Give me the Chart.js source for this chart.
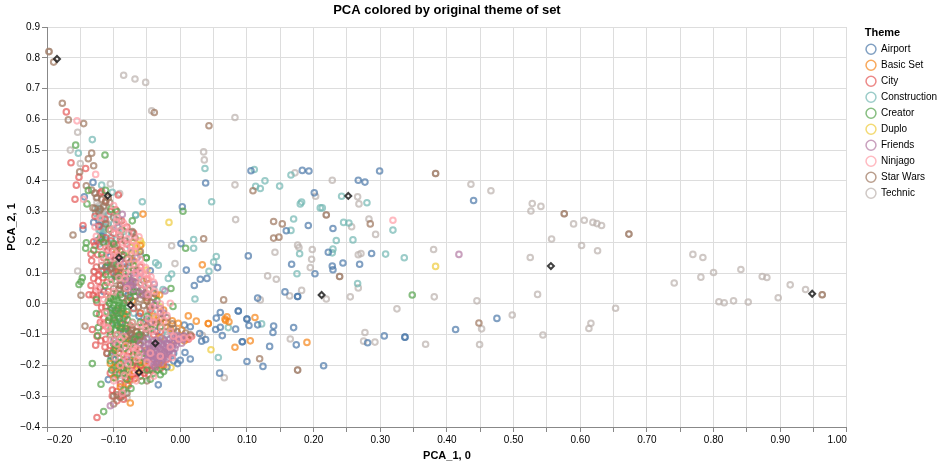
<!DOCTYPE html>
<html>
<head>
<meta charset="utf-8">
<title>PCA colored by original theme of set</title>
<script src="https://cdn.jsdelivr.net/npm/chart.js@4"></script>
<style>
  html, body { margin: 0; padding: 0; background: #fff; }
  canvas { display: block; }
</style>
</head>
<body>
<canvas id="myChart" width="943" height="464"></canvas>
<script>
const airport = [[.299,.432],[.267,.402],[.277,.396],[.440,.336],[.229,.245],[.222,.168],[.287,.164],[.244,.133],[.228,.123],[.229,.111],[.269,.129],
  [.306,-.104],[.281,-.126],[.337,-.108],[.337,-.108],[.413,-.083],[.475,-.047],[.215,-.201],[-.131,.395],[.038,.393],[.106,.433],[.183,.434],[.193,.432],
  [.201,.361],[.003,.316],[.192,.255],[.159,.238],[-.144,.348],[-.146,.243],[.001,.196],[.009,.110],[.056,.118],[.021,.060],[.030,.080],[.040,.083],
  [.102,.156],[.167,.129],[.202,.098],[.157,.039],[.176,.024],[.176,.024],[.116,.019],[.060,-.028],[.087,-.023],[.087,-.023],[.054,-.046],[.100,-.049],[.100,-.049],
  [.053,-.083],[.060,-.076],[.063,-.103],[.083,-.082],[.103,-.070],[.116,-.068],[.140,-.072],[.139,-.093],[.170,-.077],[.174,-.133],[.134,-.138],[.093,-.123],[.093,-.123],
  [.029,-.096],[.032,-.121],[.038,-.116],[.015,-.074],[.006,-.069],[.015,-.179],[.007,-.158],[-.004,-.194],[0,-.183],[.100,-.187],[.124,-.203],[.059,-.225],
  [-.033,-.263],[-.108,-.246],[-.098,-.179],[-.045,.108],[-.098,.09],[-.118,.22],[-.122,.255],[-.105,-.02],[-.09,-.06],[-.073,.14],[-.062,-.04],[-.112,.12],[-.02,-.13],[-.01,-.16],
  [-.125,.205],[-.13,.265],[-.105,.155],[-.083,.12],[-.115,.04],[-.095,-.03],[-.104,-.17],[-.085,-.09],[-.07,-.11],[-.05,-.05],[-.035,-.09],[-.02,-.205],[-.01,-.185],[-.09,-.145],[-.078,.03]];
const basicSet = [[-.056,.292],[.033,.127],[.012,-.039],[.024,-.056],[.042,-.064],[.042,-.064],[.067,-.049],[.070,-.042],[.073,-.058],[.068,-.054],[.112,-.044],
  [.105,-.120],[.082,-.141],[.190,-.125],[-.003,-.063],[-.075,-.322],[-.082,-.122],[-.028,-.199],[-.105,-.194],[-.097,-.150],[-.031,.029],[-.028,-.047],[.002,-.085],
  [-.06,.19],[-.07,.14],[-.05,.08],[-.025,-.02],[-.04,-.04],[-.015,-.08],[-.03,-.11],[-.05,-.15],[-.07,-.17],[-.088,-.215],[-.1,-.24],[-.08,-.26],[-.055,-.19],[-.008,-.12],[.006,-.12],[-.09,.11],
  [-.1,-.208],[-.092,-.195],[-.082,-.115],[-.078,-.13],[-.065,-.09],[-.045,-.065],[-.022,-.06],[-.012,-.055],[-.072,.01],[-.085,-.03],[-.095,-.145],[-.09,-.27],[-.076,-.23],[-.032,-.192],[-.036,.03]];
const city = [[-.171,.624],[-.164,.459],[-.142,.440],[-.152,.412],[-.156,.386],[-.158,.340],[-.093,.354],[-.146,.255],[-.097,.306],[-.122,.252],[-.125,-.369],
  [-.130,.083],[-.123,.074],[-.131,.029],[-.120,.053],[-.127,.042],[-.134,.162],[-.126,.120],[-.127,-.134],[-.132,-.083],[-.115,-.087],[-.121,-.034],[-.102,-.280],[-.102,-.299],[-.130,.202],[-.120,.186],
  [-.137,.03],[-.126,.02],[-.118,.03],[-.112,-.01],[-.108,.04],[-.118,.105],[-.124,.16],[-.115,.15],[-.109,.175],[-.128,.19],[-.12,.21],[-.112,.215],[-.104,.205],[-.095,.19],[-.09,.21],[-.1,.23],
  [-.087,.155],[-.105,.14],[-.1,.1],[-.11,.07],[-.105,.02],[-.115,-.045],[-.108,-.06],[-.105,-.09],[-.098,-.115],[-.112,-.115],[-.105,-.135],[-.095,-.1],[-.088,-.13],[-.092,-.16],[-.078,-.155],
  [-.085,-.185],[-.072,-.2],[-.06,-.2],[-.05,-.205],[-.042,-.215],[-.055,-.215],[-.065,-.21],[-.048,-.228],[-.06,-.235],[-.07,-.225],[-.075,-.245],[-.082,-.24],[-.09,-.26],[-.095,-.285],[-.088,-.3],[-.095,-.315],[-.085,-.31],
  [-.03,-.21],[-.035,-.195],[-.04,-.18],[-.05,-.165],[-.06,-.15],[-.025,-.2],[-.02,-.18],[.01,-.11],[.017,-.105],[.012,-.115],[-.065,-.12],[-.075,-.07],[-.085,-.05],[-.093,-.02],[-.1,-.045],[-.08,.01],[-.09,.06],[-.075,.07],
  [-.095,.12],[-.085,.13],[-.07,.11],[-.06,.12],[-.05,.02],[-.045,-.02],[-.035,-.06],[-.055,-.06],[-.03,-.09],[-.04,-.1],[-.112,.335],[-.105,.3],[-.118,.365],[-.088,.27],[-.08,.25],[-.07,.23],
  [-.133,.14],[-.129,.105],[-.122,.095],[-.116,.085],[-.134,.06],[-.11,.105],[-.125,.005],[-.118,-.012],[-.12,-.06],[-.125,-.105],[-.119,-.12],[-.113,-.14],[-.115,-.065],[-.11,-.16],[-.1,-.15],[-.098,-.205],[-.105,-.225],[-.095,-.23],[-.085,-.215],
  [-.078,-.265],[-.072,-.235],[-.068,-.242],[-.054,-.225],[-.046,-.215],[-.038,-.205],[-.052,-.19],[-.068,-.185],[-.08,-.17],[-.07,-.15],[-.09,-.08],[-.08,-.035],[-.07,-.015],[-.06,-.03],[-.083,.088],[-.093,.105],[-.1,.16],[-.09,.175],[-.08,.195],[-.106,.185],[-.128,.285],[-.12,.36],[-.113,.275]];
const construction = [[-.132,.534],[-.153,.490],[.037,.440],[.047,.332],[.111,.437],[.113,.382],[.120,.375],[.127,.400],[.149,.383],[.166,.419],[.180,.325],[.182,.331],[.210,.312],[.170,.276],[.166,.239],
  [-.057,.332],[-.067,.289],[-.067,.289],[-.097,.274],[-.073,.232],[-.102,.363],[-.118,.386],[.242,.350],[.280,.329],[.213,.312],[.245,.265],[.253,.263],[.319,.240],[.234,.206],[.259,.208],[.229,.178],[.228,.166],[.308,.162],[.336,.150],[.266,.066],
  [.020,.209],[.020,.181],[.054,.154],[.050,.136],[.043,.106],[-.018,.083],[-.013,.097],[.022,.016],[.072,-.077],[.122,-.065],[.175,.098],[.179,.163],[.057,-.174],[-.037,.134],[-.033,.126],[-.026,.047],
  [-.127,.295],[-.124,.31],[-.118,.27],[-.113,.25],[-.12,.235],[-.108,.29],[-.1,.26],[-.092,.25],[-.075,.215],[-.11,.17],[-.098,.14],[-.105,.115],[-.075,.185],[-.06,.16],[-.058,.08],[-.04,.05],[-.088,-.01],[-.07,-.03],[-.05,-.11],[-.09,-.08],[-.02,-.1],[-.1,-.18],[-.08,-.2],
  [-.122,.24],[-.116,.225],[-.112,.205],[-.122,.195],[-.104,.215],[-.085,.235],[-.095,.21],[-.115,.11],[-.085,.04],[-.098,-.06],[-.078,-.09],[-.06,-.13],[-.042,-.03],[-.03,-.12]];
const creator = [[-.157,.516],[-.113,.484],[-.112,.369],[-.138,.369],[-.140,.325],[.004,.301],[-.104,.308],[-.107,.243],[.348,.029],[.008,.181],[-.051,.150],[-.051,.150],[-.014,.050],[-.011,-.008],[-.132,-.194],[-.119,-.261],[-.115,-.350],
  [-.141,.199],[-.142,.181],[-.147,.085],[-.149,.072],[-.152,.063],[-.126,.013],[-.126,-.031],[-.123,-.077],[-.124,-.103],[-.074,-.275],[-.12,.215],[-.13,.175],[-.11,.135],[-.095,.3],[-.088,.24],[-.072,.27],
  [-.113,.06],[-.108,.01],[-.106,.002],[-.1,.015],[-.095,.012],[-.09,.03],[-.085,.002],[-.1,-.005],[-.093,-.006],[-.086,-.015],[-.08,-.025],[-.11,-.025],[-.104,-.03],[-.098,-.022],[-.09,-.03],[-.106,-.045],[-.099,-.052],[-.091,-.047],[-.083,-.04],[-.102,-.065],
  [-.094,-.07],[-.087,-.063],[-.079,-.052],[-.098,-.085],[-.09,-.09],[-.082,-.08],[-.105,-.1],[-.1,-.13],[-.093,-.14],[-.085,-.115],[-.075,-.13],[-.102,-.16],[-.095,-.2],[-.09,-.19],[-.103,-.215],[-.085,-.225],[-.08,-.245],[-.06,-.19],[-.07,-.165],
  [-.055,-.16],[-.045,-.245],[-.04,-.225],[-.03,-.23],[-.06,-.06],[-.05,-.04],[-.035,.01],[-.07,.04],[-.08,.08],[-.095,.13],[-.112,.095],[-.085,.16],[-.07,.125],[-.045,-.08],[-.03,-.075],[-.085,-.28],
  [-.105,.018],[-.097,.025],[-.091,.004],[-.102,-.014],[-.087,-.006],[-.094,-.015],[-.1,-.038],[-.094,-.04],[-.088,-.02],[-.108,-.055],[-.096,-.062],[-.104,-.08],[-.088,-.078],[-.09,-.11],[-.098,-.115],[-.09,-.125],[-.083,-.145],[-.098,-.15],[-.105,-.185],[-.092,-.175],
  [-.098,-.24],[-.091,-.225],[-.08,-.215],[-.075,-.19],[-.05,-.215],[-.058,-.25],[-.035,-.215],[-.025,-.22],[-.078,.105],[-.092,.09],[-.103,.08],[-.118,.16],[-.1,.195],[-.115,.2],[-.065,.04],[-.075,.02],[-.062,-.1],[-.072,-.06],[-.04,-.14],[-.068,-.115]];
const duplo = [[.383,.122],[-.017,.265],[-.014,-.207],[.046,-.149],[-.065,.181],[-.07,.2],[-.062,.17],[-.058,.195],[-.075,.16],[-.05,.11],[-.085,-.165],[-.075,-.21],[-.065,-.2],[-.058,-.19],[-.07,-.245],[-.09,-.07],[-.06,-.03],[-.03,-.01],[-.05,.01],[-.095,.17],
  [-.066,.192],[-.06,.205],[-.078,-.22],[-.07,-.19],[-.062,-.215],[-.055,-.2],[-.08,-.08],[-.11,.03],[-.04,-.05],[-.03,-.06],[-.025,-.16]];
const friends = [[-.087,.291],[-.094,.249],[.418,.161],[-.105,-.331],[-.039,.064],[-.023,.042],[-.04,-.12],[-.032,-.125],[-.024,-.118],[-.016,-.114],[-.008,-.11],[0,-.11],[-.044,-.132],[-.036,-.135],[-.028,-.132],[-.02,-.127],[-.012,-.122],[-.004,-.12],[.004,-.116],
  [-.046,-.146],[-.038,-.148],[-.03,-.146],[-.022,-.141],[-.014,-.136],[-.006,-.133],[.002,-.128],[-.048,-.158],[-.04,-.162],[-.032,-.158],[-.024,-.155],[-.016,-.15],[-.008,-.145],[-.044,-.172],[-.036,-.173],[-.028,-.168],[-.02,-.163],[-.012,-.16],[-.042,-.186],[-.034,-.184],[-.026,-.179],[-.018,-.175],
  [-.04,-.198],[-.03,-.192],[-.054,-.172],[-.054,-.142],[-.06,-.128],[-.05,-.115],[-.072,.06],[-.068,.085],[-.076,.075],[-.07,.048],[-.082,.07],[-.06,.03],[-.025,-.03],[-.045,-.06],[-.09,.14],[-.1,-.12],[-.065,.15],[-.08,-.18],[-.038,.0],
  [-.042,-.125],[-.035,-.118],[-.027,-.112],[-.012,-.104],[-.004,-.103],[.006,-.104],[-.048,-.13],[-.04,-.14],[-.033,-.14],[-.025,-.138],[-.017,-.131],[-.01,-.128],[-.052,-.15],[-.044,-.155],[-.036,-.155],[-.028,-.151],[-.02,-.148],[-.012,-.142],[-.05,-.18],[-.046,-.166],[-.04,-.168],[-.032,-.165],
  [-.024,-.162],[-.016,-.156],[-.038,-.178],[-.03,-.176],[-.022,-.17],[-.036,-.192],[-.028,-.186],[-.038,-.205],[-.076,.062],[-.07,.072],[-.078,.088],[-.068,.1],[-.08,.055],[-.058,.05],[-.05,.03],[-.03,-.015],[-.06,.1]];
const ninjago = [[-.155,.595],[-.127,.421],[-.083,.247],[-.145,.34],[.319,.272],[-.015,.002],[-.055,.096],[-.048,.082],[-.08,.21],[-.073,.19],[-.068,.17],[-.1,.245],[-.092,.225],[-.086,.2],[-.1,.17],[-.078,.145],[-.09,.125],[-.082,.1],[-.068,.13],[-.06,.105],[-.05,.095],[-.06,.065],
  [-.04,.07],[-.092,.085],[-.105,.07],[-.1,.04],[-.042,-.01],[-.048,.03],[-.03,.0],[-.052,-.08],[-.04,-.06],[-.025,-.055],[-.015,-.09],
  [-.01,-.105],[.005,-.11],[.014,-.11],[-.002,-.115],[-.095,-.13],[-.105,-.115],[-.085,-.105],[-.09,-.155],[-.075,-.16],[-.065,-.145],[-.045,-.16],[-.03,-.17],[-.015,-.14],[-.05,-.19],[-.065,-.18],[-.078,-.195],[-.09,-.2],[-.1,-.25],[-.04,-.235],
  [-.087,-.29],[-.11,.03],[-.115,.015],[-.112,.18],[-.105,.24],[-.11,-.075],[-.1,.32],[-.095,.28],[-.06,.145],[-.03,-.025],[-.08,.05],
  [-.096,.268],[-.085,.262],[-.09,.238],[-.077,.228],[-.07,.205],[-.062,.218],[-.066,.188],[-.081,.18],[-.074,.172],[-.094,.158],[-.107,.158],[-.101,.148],[-.058,.125],[-.052,.118],[-.044,.088],[-.074,.112],[-.066,.098],[-.083,.082],[-.061,.088],[-.053,.06],[-.046,.05],[-.038,.04],
  [-.072,-.062],[-.06,-.068],[-.048,-.048],[-.036,-.042],[-.02,-.038],[-.028,-.078],[-.042,-.09],[-.09,-.115],[-.082,-.135],[-.07,-.14],
  [-.012,-.175],[-.062,-.168],[-.085,-.17],[-.098,-.175],[-.072,-.222],[-.084,-.232],[-.066,-.25],[-.095,-.1],[-.108,-.08],[-.118,-.06],[-.112,-.03],[-.124,.05],[-.118,.14],[-.126,.22],[-.128,.25],[-.12,.28]];
const starWars = [[-.197,.820],[-.190,.786],[-.177,.652],[-.168,.598],[-.145,.586],[-.039,.622],[.043,.579],[-.133,.490],[-.138,.472],[-.130,.449],[-.151,.429],[-.141,.384],[.109,.368],[.140,.268],[.153,.260],[-.120,.308],[-.131,.312],
  [.383,.424],[.219,.289],[.285,.260],[.576,.293],[.673,.227],[.448,-.062],[.239,.089],[.963,.030],[-.161,.224],[.035,.212],[.140,.214],[.148,.217],[.065,.013],[-.149,.028],[-.143,-.072],[.119,-.178],[.176,-.215],[-.110,-.161],[-.100,-.325],[-.090,-.304],
  [-.133,.37],[-.128,.36],[-.125,.345],[-.118,.34],[-.112,.33],[-.128,.31],[-.122,.30],[-.115,.318],[-.108,.345],[-.106,.33],[-.105,.24],[-.072,.235],[-.068,.215],[-.09,.22],[-.083,.205],[-.118,.21],[-.108,.195],[-.098,.185],[-.088,.17],[-.073,.165],
  [-.118,.125],[-.11,.125],[-.105,.112],[-.1,.13],[-.095,.09],[-.09,.10],[-.085,.115],[-.078,.09],[-.072,.075],[-.098,.075],[-.09,.06],[-.083,.05],[-.075,.04],[-.065,.055],[-.058,.045],[-.052,.035],[-.068,.025],[-.06,.015],[-.05,.01],[-.044,.005],[-.095,.035],[-.1,.05],[-.087,.02],[-.077,.01],[-.082,.035],[-.067,.07],[-.055,.075],[-.04,.02],[-.038,-.005],
  [-.08,-.07],[-.072,-.08],[-.065,-.075],[-.058,-.09],[-.075,-.095],[-.068,-.105],[-.06,-.11],[-.052,-.095],[-.08,-.105],[-.07,-.125],[-.062,-.13],[-.055,-.12],[-.078,-.12],[-.05,-.07],[-.03,-.05],[-.02,-.075],[-.005,-.09],[.005,-.105],[.015,-.10],[-.012,-.065],[-.02,-.045],[-.03,-.03],[-.065,-.16],[-.07,-.19],[-.085,-.21],[-.05,-.25],
  [-.103,.118],[-.096,.106],[-.09,.082],[-.08,.068],[-.074,.058],[-.092,.048],[-.062,.038],[-.07,.008],[-.056,.028],[-.048,.045],[-.063,-.01],[-.055,-.005],[-.046,-.008],[-.074,-.085],[-.066,-.09],[-.06,-.1],[-.072,-.115],[-.064,-.118],[-.057,-.105],[-.073,-.1],[-.082,-.09],[-.048,-.085],[-.037,-.068],[-.01,-.08],[.008,-.095],
  [-.095,.155],[-.08,.148],[-.06,.17],[-.112,.26],[-.1,.28],[-.092,.27],[-.075,.135],[-.065,.11],[-.048,.065],[-.04,.035],[-.1,-.3],[-.095,-.295],[-.08,-.29]];
const technic = [[-.085,.743],[-.068,.731],[-.052,.720],[-.043,.628],[.082,.606],[-.154,.558],[-.165,.500],[-.150,.456],[.035,.494],[.036,.468],[-.105,.390],[.082,.387],[.083,.274],[-.091,.359],[.172,.426],[.203,.350],[-.121,.358],[-.197,.820],
  [.228,.402],[.383,.424],[.436,.389],[.466,.368],[.266,.348],[.268,.325],[.219,.290],[.283,.276],[.257,.251],[.293,.226],[.528,.326],[.541,.317],[.526,.302],[.576,.293],[.590,.260],[.606,.272],[.619,.265],[.625,.261],[.632,.255],[.673,.227],[.557,.211],[.602,.190],[.626,.173],[.380,.177],[.525,.151],
  [.267,.160],[.271,.164],[.239,.089],[.267,.052],[.255,.023],[.219,.016],[.381,.023],[.325,-.016],[.445,.010],[.536,.031],[.498,-.036],[.653,-.014],[.616,-.063],[.613,-.080],[.452,-.081],[.544,-.101],[.449,-.132],[.368,-.131],[.277,-.093],[.275,-.121],[.292,-.124],
  [.769,.161],[.784,.151],[.800,.102],[.781,.087],[.741,.068],[.841,.112],[.873,.089],[.880,.086],[.915,.062],[.938,.047],[.897,.020],[.808,.007],[.816,.004],[.830,.010],[.852,.006],[.963,.030],
  [-.013,.189],[-.008,.131],[-.154,.107],[.142,.168],[.176,.191],[.178,.183],[.198,.177],[.197,.145],[.195,.118],[.131,.091],[.144,.080],[.182,.044],[.164,.026],[.120,.013],[.033,-.102],[.165,-.114],[.066,-.240],[.176,-.215],[-.067,-.156],[-.085,-.296],
  [-.125,.33],[-.122,.32],[-.120,.31],[-.118,.30],[-.121,.29],[-.117,.285],[-.119,.275],[-.115,.27],[-.118,.26],[-.114,.255],[-.116,.245],[-.112,.30],[-.113,.28],[-.111,.265],[-.123,.30],[-.126,.345],[-.128,.36],[-.11,.12],[-.105,.125],[-.115,.235],[-.11,.225],[-.085,.06],[-.05,-.02],[-.09,-.25],[-.082,-.29],[-.13,.105],[-.02,-.09],
  [-.114,.315],[-.124,.28],[-.116,.295],[-.12,.268],[-.113,.243],[-.108,.258],[-.117,.232],[-.102,.115],[-.095,.11],[-.075,-.25],[-.08,-.305],[-.088,-.29],[-.06,-.145],[-.01,-.095]];
const centroids = [[-.185,.796],[-.109,.352],[-.092,.150],[-.0745,-.004],[-.0375,-.128],[-.062,-.223],[.252,.351],[.212,.029],[.556,.123],[.948,.033]];

const themeNames = ['Airport', 'Basic Set', 'City', 'Construction', 'Creator', 'Duplo', 'Friends', 'Ninjago', 'Star Wars', 'Technic'];
const themeValues = [airport, basicSet, city, construction, creator, duplo, friends, ninjago, starWars, technic];
const themeColors = ['#4c78a8', '#f58518', '#e45756', '#72b7b2', '#54a24b', '#eeca3b', '#b279a2', '#ff9da6', '#9d755d', '#bab0ac'];
// higher order is painted first
const themeOrder = [6, 4, 5, 8, 2.5, 7, 2, 1, 3, 9];

function hexToRgba(hex, alpha) {
  const n = parseInt(hex.slice(1), 16);
  return `rgba(${n >> 16},${(n >> 8) & 255},${n & 255},${alpha})`;
}

function toPoints(pairs) {
  return pairs.map(p => ({ x: p[0], y: p[1] }));
}

const datasets = themeNames.map((name, i) => ({
  label: name,
  data: toPoints(themeValues[i]),
  order: themeOrder[i],
  clip: false,
  pointRadius: 2.8,
  pointBorderWidth: 2,
  pointBorderColor: hexToRgba(themeColors[i], 0.7),
  pointBackgroundColor: 'rgba(0,0,0,0)'
}));

datasets.push({
  label: 'centroids',
  data: toPoints(centroids),
  order: 0,
  clip: false,
  pointStyle: 'rectRot',
  pointRadius: 3,
  pointBorderWidth: 2,
  pointBorderColor: 'rgba(30,30,30,0.85)',
  pointBackgroundColor: 'rgba(0,0,0,0)'
});

function fmt(v, digits) {
  const s = Math.abs(v) < 1e-9 ? (0).toFixed(digits) : v.toFixed(digits);
  return s.replace('-', '\u2212');
}

Chart.defaults.font.family = '"Liberation Sans", Arial, sans-serif';
Chart.defaults.color = '#000';

const axisGrid = { color: '#ddd', tickColor: '#888', tickLength: 5, lineWidth: 1 };

new Chart(document.getElementById('myChart'), {
  type: 'scatter',
  data: { datasets: datasets },
  plugins: [{
    id: 'legendGap',
    // the legend sits away from the plot and its title starts right of the box edge
    afterLayout(chart) {
      const legend = chart.legend;
      legend.left = 860;
      legend.right = 943;
      legend.width = 45;
    }
  }],
  options: {
    responsive: false,
    animation: false,
    events: [],
    layout: { padding: { right: 9 } },
    plugins: {
      title: {
        display: true,
        text: 'PCA colored by original theme of set',
        fullSize: false,
        color: '#000',
        font: { size: 13, weight: 'bold' },
        padding: { top: 3, bottom: 8.4 }
      },
      tooltip: { enabled: false },
      legend: {
        position: 'right',
        align: 'start',
        title: {
          display: true,
          text: 'Theme',
          position: 'center',
          color: '#000',
          font: { size: 11, weight: 'bold' },
          padding: { top: 27.8, bottom: -2.7 }
        },
        labels: {
          usePointStyle: true,
          boxWidth: 10,
          boxHeight: 7,
          padding: 6,
          color: '#000',
          font: { size: 10 },
          generateLabels: chart => Chart.defaults.plugins.legend.labels.generateLabels(chart)
            .map(item => Object.assign(item, { lineWidth: 1.5 })),
          filter: item => item.text !== 'centroids',
          sort: (a, b) => a.datasetIndex - b.datasetIndex
        }
      }
    },
    scales: {
      x: {
        type: 'linear',
        min: -0.2,
        max: 1,
        afterFit(scale) { scale.height = 37; },
        grid: axisGrid,
        border: { color: '#888' },
        title: {
          display: true,
          text: 'PCA_1, 0',
          color: '#000',
          font: { size: 11, weight: 'bold' },
          padding: { top: 0, bottom: 1 }
        },
        ticks: {
          stepSize: 0.05,
          autoSkip: false,
          maxRotation: 0,
          align: 'inner',
          padding: 2,
          font: { size: 10 },
          callback: v => (Math.round(v * 100) % 10 === 0 ? fmt(v, 2) : '')
        }
      },
      y: {
        type: 'linear',
        min: -0.4,
        max: 0.9,
        afterFit(scale) { scale.width = 47; },
        grid: axisGrid,
        border: { color: '#888' },
        title: {
          display: true,
          text: 'PCA_2, 1',
          color: '#000',
          font: { size: 11, weight: 'bold' },
          padding: { top: 5, bottom: 0 }
        },
        ticks: {
          stepSize: 0.1,
          autoSkip: false,
          padding: 2,
          font: { size: 10 },
          callback: v => fmt(v, 1)
        }
      }
    }
  }
});
</script>
</body>
</html>
